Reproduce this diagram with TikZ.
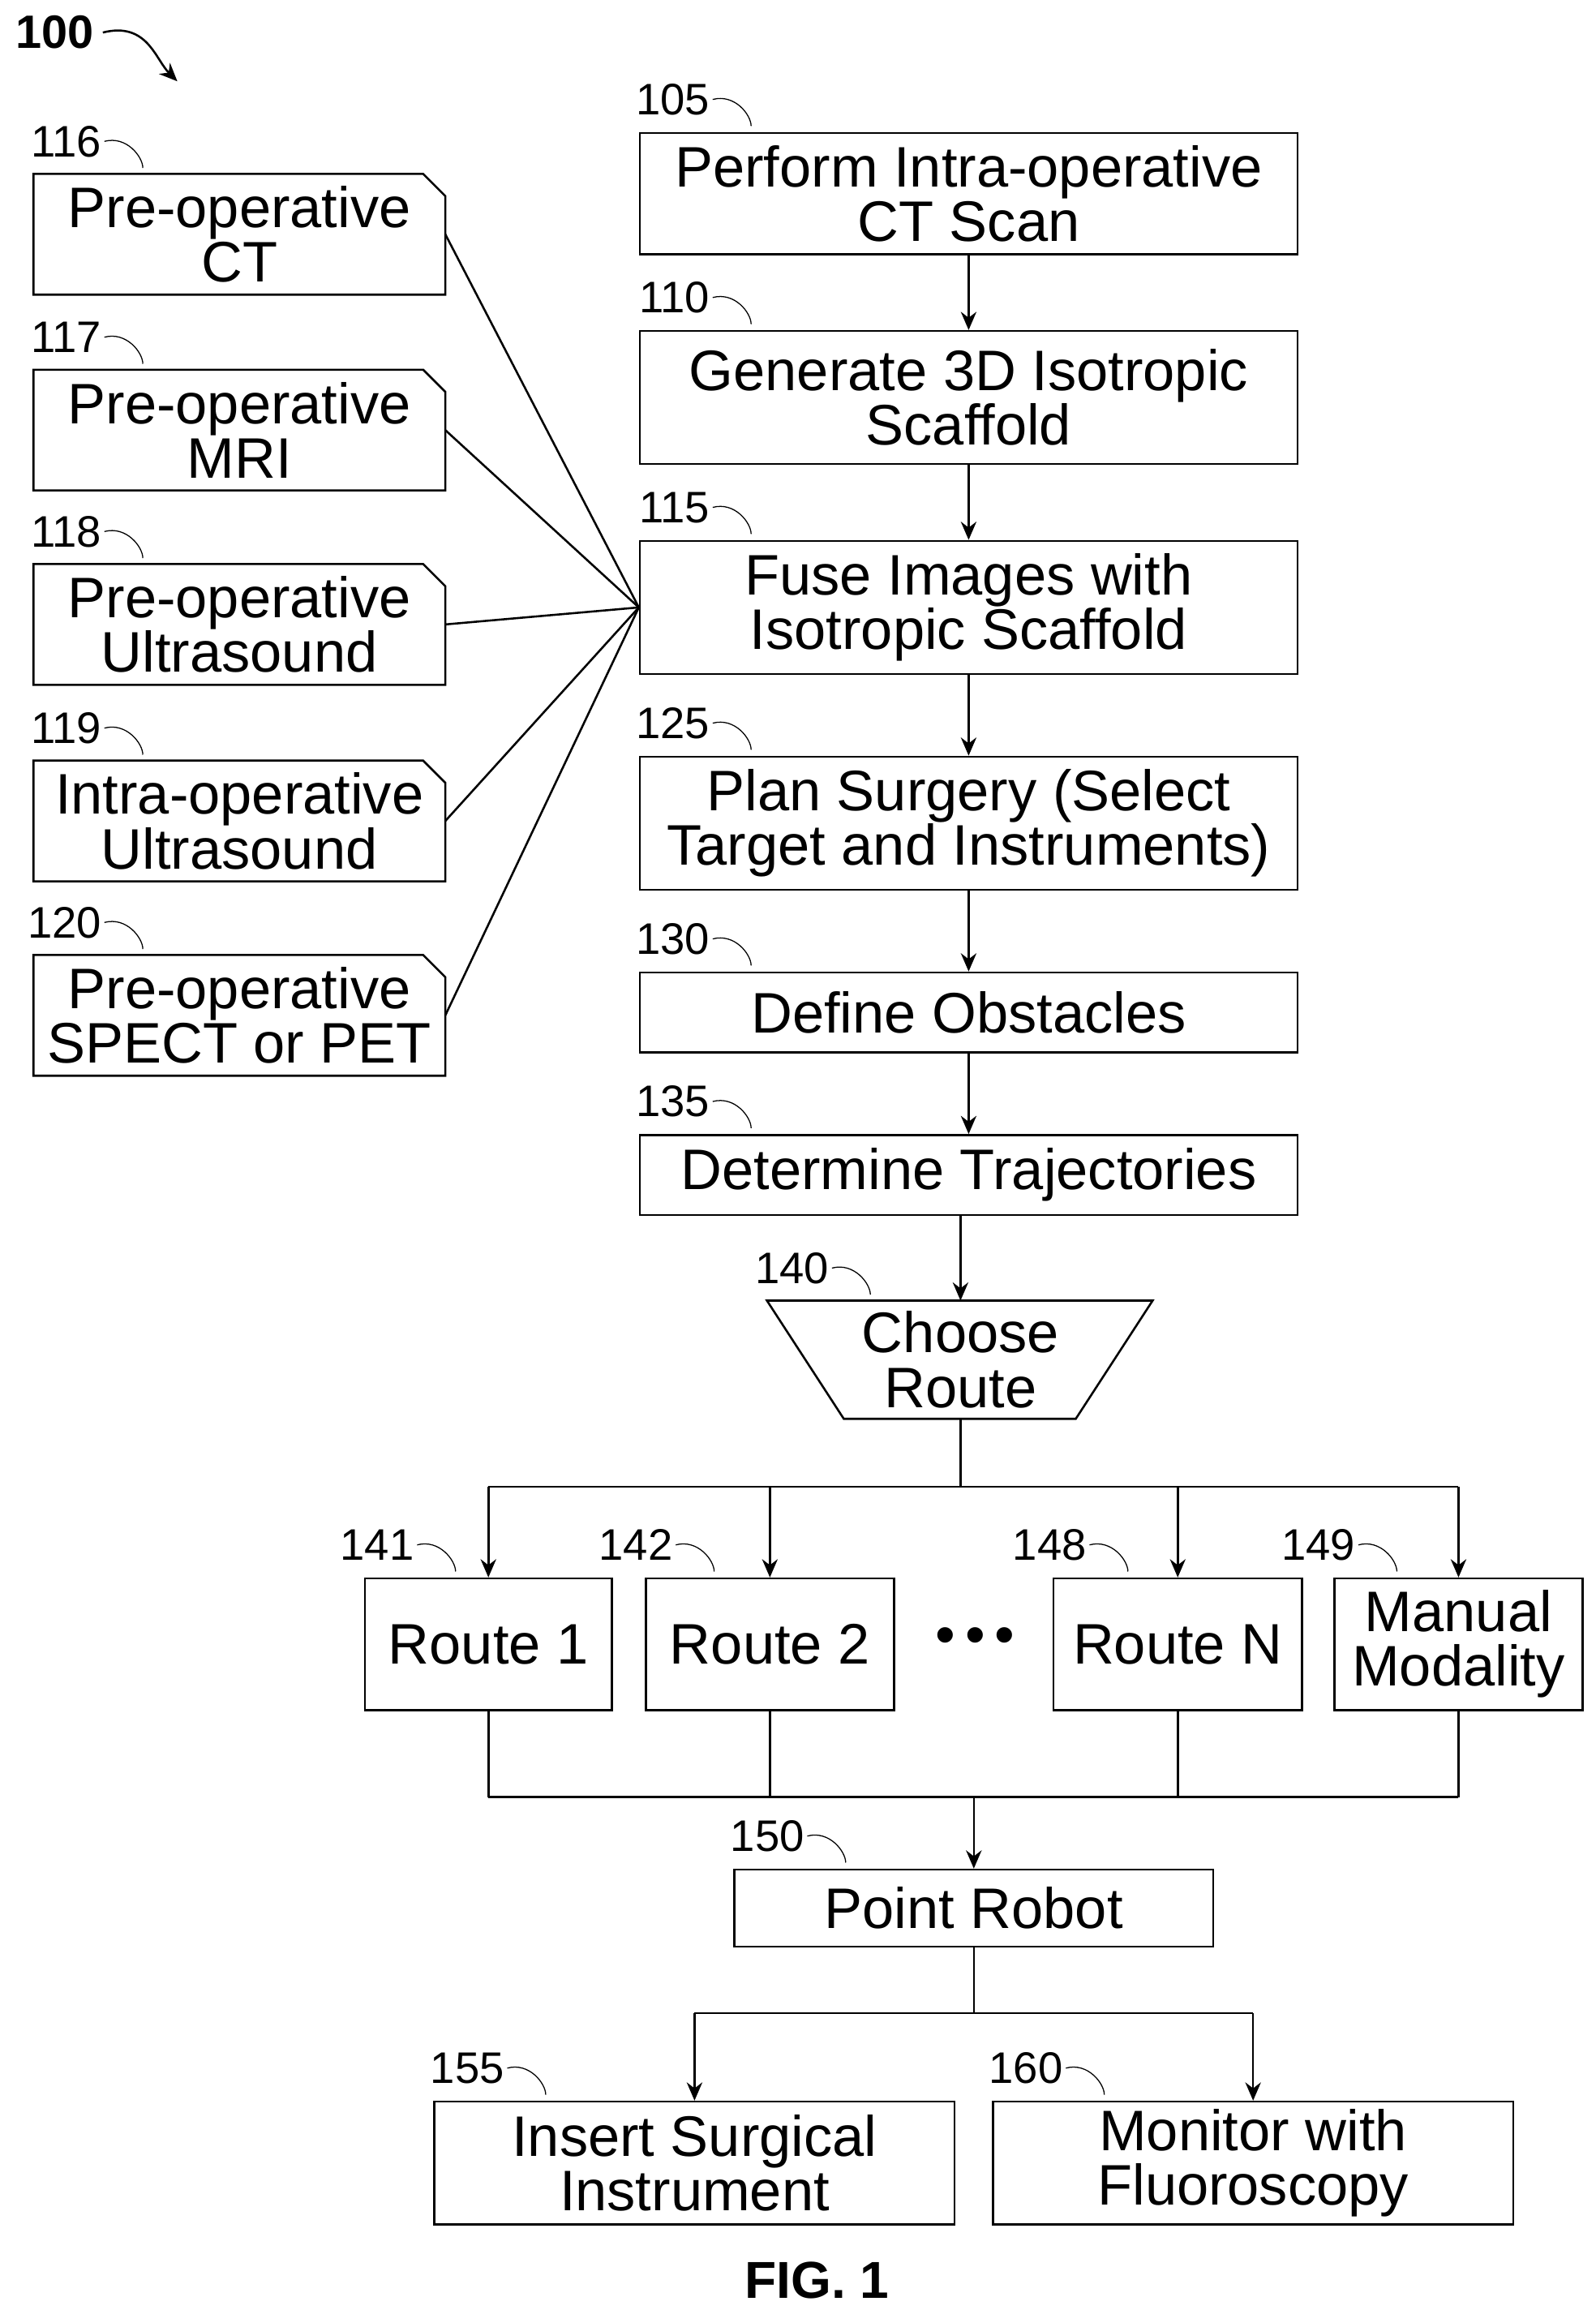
\documentclass[tikz,border=0pt]{standalone}
\usepackage{fontspec}
\setmainfont{Liberation Sans}
\usetikzlibrary{positioning,arrows.meta}
\newcommand{\fixbox}[1]{\draw[thick] (#1.south west) -- (#1.south east) -- ([yshift=-0.3cm]#1.north east) -- ([xshift=-0.3cm]#1.north east) -- (#1.north west) -- cycle;}
\newcommand{\reflbl}[3]{%
  \node[num,anchor=east] (l#2) at ([xshift=#3cm,yshift=0.44cm]#1.north west) {#2};
  \draw (l#2.east) .. controls +(0.3,0.08) and +(0,0.15) .. +(0.52,-0.36);}
\begin{document}
\begin{tikzpicture}[
box/.style={draw,thick,align=center,inner sep=0pt,font=\fontsize{22}{21}\selectfont},
card/.style={align=center,inner sep=0pt,minimum width=5.56cm,minimum height=1.62cm,font=\fontsize{22}{21}\selectfont},
num/.style={font=\fontsize{17}{17}\selectfont,inner sep=1pt},
arr/.style={thick,-{Stealth[length=7pt,width=6pt]}},
]
\useasboundingbox (0,0) rectangle (21.6,-31.26);
% right column
\node[box,minimum width=8.9cm,minimum height=1.64cm] (b105) at (13.11,-2.62) {Perform Intra-operative\\CT Scan};
\node[box,minimum width=8.9cm,minimum height=1.8cm] (b110) at (13.11,-5.38) {Generate 3D Isotropic\\Scaffold};
\node[box,minimum width=8.9cm,minimum height=1.8cm] (b115) at (13.11,-8.22) {Fuse Images with\\Isotropic Scaffold};
\node[box,minimum width=8.9cm,minimum height=1.8cm] (b125) at (13.11,-11.14) {Plan Surgery (Select\\Target and Instruments)};
\node[box,minimum width=8.9cm,minimum height=1.08cm] (b130) at (13.11,-13.7) {Define Obstacles};
\node[box,minimum width=8.9cm,minimum height=1.08cm] (b135) at (13.11,-15.9) {Determine Trajectories};
% trapezoid
\coordinate (t1) at (10.38,-17.6); \coordinate (t2) at (15.6,-17.6);
\coordinate (t3) at (14.56,-19.2); \coordinate (t4) at (11.42,-19.2);
\draw[thick] (t1) -- (t2) -- (t3) -- (t4) -- cycle;
\node[card,minimum width=5.2cm,minimum height=1.6cm] (b140) at (13.0,-18.4) {Choose\\Route};
\coordinate (t140) at (13.0,-17.6);
% left column
\node[card] (b116) at (3.24,-3.17) {Pre-operative\\CT};
\node[card] (b117) at (3.24,-5.82) {Pre-operative\\MRI};
\node[card] (b118) at (3.24,-8.45) {Pre-operative\\Ultrasound};
\node[card] (b119) at (3.24,-11.11) {Intra-operative\\Ultrasound};
\node[card] (b120) at (3.24,-13.74) {Pre-operative\\SPECT or PET};
\foreach \n in {116,...,120}{\fixbox{b\n}}
% routes
\node[box,minimum width=3.34cm,minimum height=1.78cm] (b141) at (6.61,-22.25) {Route 1};
\node[box,minimum width=3.36cm,minimum height=1.78cm] (b142) at (10.42,-22.25) {Route 2};
\node[font=\fontsize{22}{22}\selectfont] (dots) at (13.2,-22.2) {\textbullet\,\textbullet\,\textbullet};
\node[box,minimum width=3.36cm,minimum height=1.78cm] (b148) at (15.94,-22.25) {Route N};
\node[box,minimum width=3.36cm,minimum height=1.78cm] (b149) at (19.74,-22.25) {Manual\\Modality};
\node[box,minimum width=6.48cm,minimum height=1.04cm] (b150) at (13.18,-25.82) {Point Robot};
\node[box,minimum width=7.04cm,minimum height=1.66cm] (b155) at (9.4,-29.27) {Insert Surgical\\Instrument};
\node[box,minimum width=7.04cm,minimum height=1.66cm] (b160) at (16.96,-29.27) {Monitor with\\Fluoroscopy};
\node[font=\bfseries\fontsize{20}{20}\selectfont] (fig) at (11.06,-30.86) {FIG. 1};
% connectors
\draw[arr] (b105) -- (b110);
\draw[arr] (b110) -- (b115);
\draw[arr] (b115) -- (b125);
\draw[arr] (b125) -- (b130);
\draw[arr] (b130) -- (b135);
\draw[arr] (b135.south -| t140) -- (t140);
\foreach \n in {116,...,120}{\draw[thick] (b\n.east) -- (b115.west);}
\coordinate (bus1) at (13.0,-20.12);
\draw[thick] (13.0,-19.2) -- (bus1);
\draw[thick] (b141.north |- bus1) -- (b149.north |- bus1);
\foreach \n in {141,142,148,149}{\draw[arr] (b\n.north |- bus1) -- (b\n.north);}
\coordinate (bus2) at (13.18,-24.32);
\foreach \n in {141,142,148,149}{\draw[thick] (b\n.south) -- (b\n.south |- bus2);}
\draw[thick] (b141.south |- bus2) -- (b149.south |- bus2);
\draw[arr] (bus2) -- (b150);
\coordinate (bus3) at (13.18,-27.24);
\draw[thick] (b150.south) -- (bus3);
\draw[thick] (b155.north |- bus3) -- (b160.north |- bus3);
\draw[arr] (b155.north |- bus3) -- (b155.north);
\draw[arr] (b160.north |- bus3) -- (b160.north);
% reference numerals
\reflbl{b105}{105}{1.0}
\reflbl{b110}{110}{1.0}
\reflbl{b115}{115}{1.0}
\reflbl{b125}{125}{1.0}
\reflbl{b130}{130}{1.0}
\reflbl{b135}{135}{1.0}
\node[num,anchor=east] (l140) at (11.26,-17.16) {140};
\draw (l140.east) .. controls +(0.3,0.08) and +(0,0.15) .. +(0.52,-0.36);
\reflbl{b116}{116}{0.96}
\reflbl{b117}{117}{0.96}
\reflbl{b118}{118}{0.96}
\reflbl{b119}{119}{0.96}
\reflbl{b120}{120}{0.96}
\reflbl{b141}{141}{0.72}
\reflbl{b142}{142}{0.42}
\reflbl{b148}{148}{0.5}
\reflbl{b149}{149}{0.34}
\reflbl{b150}{150}{1.0}
\reflbl{b155}{155}{1.0}
\reflbl{b160}{160}{1.0}
\node[font=\bfseries\fontsize{18}{18}\selectfont] (l100) at (0.74,-0.44) {100};
\draw[thick,-{Stealth[length=7pt,width=6pt]}] (l100.east) .. controls +(0.6,0.15) and +(-0.3,0.3) .. (2.4,-1.1);
\end{tikzpicture}
\end{document}
